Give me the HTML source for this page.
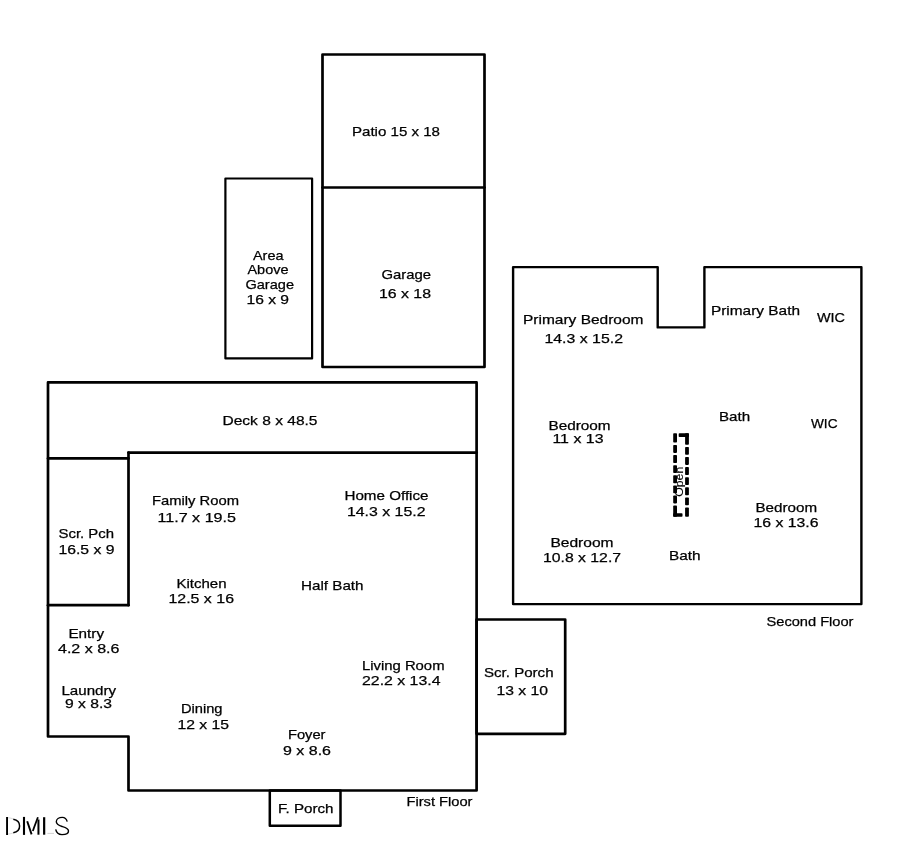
<!DOCTYPE html>
<html><head><meta charset="utf-8"><style>
html,body{margin:0;padding:0;background:#fff;width:904px;height:866px;overflow:hidden}
svg{display:block;will-change:transform;font-family:"Liberation Sans",sans-serif;font-size:13px}
</style></head><body>
<svg width="904" height="866" viewBox="0 0 904 866">
<g fill="none" stroke="#000" stroke-linecap="round" stroke-linejoin="round">
<path d="M322.5,54.5 L484.5,54.5 L484.5,367 L322.5,367 Z" stroke-width="2.7"/>
<line x1="322.5" y1="187.5" x2="484.5" y2="187.5" stroke-width="2.7"/>
<path d="M225.4,178.5 L312.1,178.5 L312.1,358.4 L225.4,358.4 Z" stroke-width="2.2"/>
<path d="M48,382.4 L476.6,382.4 L476.6,790.5 L128.5,790.5 L128.5,736.5 L48,736.5 Z" stroke-width="2.7"/>
<line x1="128.5" y1="452.6" x2="476.6" y2="452.6" stroke-width="2.7"/>
<line x1="48" y1="458.4" x2="128.5" y2="458.4" stroke-width="2.7"/>
<line x1="128.5" y1="452.6" x2="128.5" y2="605.2" stroke-width="2.7"/>
<line x1="48" y1="605.2" x2="128.5" y2="605.2" stroke-width="2.7"/>
<path d="M476.6,619.5 L565.2,619.5 L565.2,733.8 L476.6,733.8 Z" stroke-width="2.7"/>
<path d="M269.8,790.5 L340.5,790.5 L340.5,825.7 L269.8,825.7 Z" stroke-width="2.5"/>
<path d="M513.1,267.1 L657.7,267.1 L657.7,327.4 L704.4,327.4 L704.4,267.1 L861.4,267.1 L861.4,604.1 L513.1,604.1 Z" stroke-width="2.4"/>
</g>
<g fill="#000"><rect x="673.2" y="433.3" width="3.8" height="9.2" rx="0.8"/><rect x="673.2" y="445.0" width="3.8" height="7.9" rx="0.8"/><rect x="673.2" y="455.1" width="3.8" height="7.9" rx="0.8"/><rect x="673.2" y="465.2" width="3.8" height="7.9" rx="0.8"/><rect x="673.2" y="475.3" width="3.8" height="7.9" rx="0.8"/><rect x="673.2" y="485.4" width="3.8" height="7.9" rx="0.8"/><rect x="673.2" y="495.5" width="3.8" height="7.9" rx="0.8"/><rect x="673.2" y="505.6" width="3.8" height="11.2" rx="0.8"/><rect x="685.1" y="433.3" width="3.8" height="11.4" rx="0.8"/><rect x="685.1" y="446.9" width="3.8" height="7.9" rx="0.8"/><rect x="685.1" y="457.0" width="3.8" height="7.9" rx="0.8"/><rect x="685.1" y="467.1" width="3.8" height="7.9" rx="0.8"/><rect x="685.1" y="477.2" width="3.8" height="7.9" rx="0.8"/><rect x="685.1" y="487.3" width="3.8" height="7.9" rx="0.8"/><rect x="685.1" y="497.4" width="3.8" height="7.9" rx="0.8"/><rect x="685.1" y="507.5" width="3.8" height="9.3" rx="0.8"/><rect x="678.7" y="433.3" width="10.2" height="3.7" rx="0.8"/><rect x="673.2" y="513.2" width="9.3" height="3.6" rx="0.8"/></g>
<g fill="#000" stroke="#000" stroke-width="0.25">
<text x="351.97" y="135.60" textLength="88.04" lengthAdjust="spacingAndGlyphs">Patio 15 x 18</text>
<text x="381.48" y="279.40" textLength="49.52" lengthAdjust="spacingAndGlyphs">Garage</text>
<text x="378.92" y="297.80" textLength="52.09" lengthAdjust="spacingAndGlyphs">16 x 18</text>
<text x="252.98" y="259.60" textLength="30.52" lengthAdjust="spacingAndGlyphs">Area</text>
<text x="247.48" y="273.80" textLength="41.05" lengthAdjust="spacingAndGlyphs">Above</text>
<text x="245.48" y="288.50" textLength="48.54" lengthAdjust="spacingAndGlyphs">Garage</text>
<text x="246.47" y="303.50" textLength="42.55" lengthAdjust="spacingAndGlyphs">16 x 9</text>
<text x="222.47" y="425.40" textLength="95.04" lengthAdjust="spacingAndGlyphs">Deck 8 x 48.5</text>
<text x="58.47" y="537.70" textLength="55.57" lengthAdjust="spacingAndGlyphs">Scr. Pch</text>
<text x="58.48" y="553.80" textLength="56.05" lengthAdjust="spacingAndGlyphs">16.5 x 9</text>
<text x="151.97" y="504.70" textLength="87.05" lengthAdjust="spacingAndGlyphs">Family Room</text>
<text x="157.47" y="521.50" textLength="78.55" lengthAdjust="spacingAndGlyphs">11.7 x 19.5</text>
<text x="344.48" y="500.40" textLength="84.02" lengthAdjust="spacingAndGlyphs">Home Office</text>
<text x="346.96" y="515.90" textLength="78.54" lengthAdjust="spacingAndGlyphs">14.3 x 15.2</text>
<text x="176.44" y="587.90" textLength="50.11" lengthAdjust="spacingAndGlyphs">Kitchen</text>
<text x="168.45" y="602.90" textLength="65.57" lengthAdjust="spacingAndGlyphs">12.5 x 16</text>
<text x="300.97" y="589.60" textLength="62.56" lengthAdjust="spacingAndGlyphs">Half Bath</text>
<text x="68.44" y="637.60" textLength="35.58" lengthAdjust="spacingAndGlyphs">Entry</text>
<text x="57.99" y="652.70" textLength="61.51" lengthAdjust="spacingAndGlyphs">4.2 x 8.6</text>
<text x="61.48" y="694.60" textLength="54.54" lengthAdjust="spacingAndGlyphs">Laundry</text>
<text x="64.99" y="707.80" textLength="47.04" lengthAdjust="spacingAndGlyphs">9 x 8.3</text>
<text x="361.96" y="669.70" textLength="82.56" lengthAdjust="spacingAndGlyphs">Living Room</text>
<text x="361.99" y="684.90" textLength="78.51" lengthAdjust="spacingAndGlyphs">22.2 x 13.4</text>
<text x="483.97" y="676.80" textLength="69.55" lengthAdjust="spacingAndGlyphs">Scr. Porch</text>
<text x="496.47" y="694.70" textLength="51.56" lengthAdjust="spacingAndGlyphs">13 x 10</text>
<text x="180.94" y="712.70" textLength="41.58" lengthAdjust="spacingAndGlyphs">Dining</text>
<text x="177.45" y="728.90" textLength="51.57" lengthAdjust="spacingAndGlyphs">12 x 15</text>
<text x="287.96" y="738.70" textLength="37.54" lengthAdjust="spacingAndGlyphs">Foyer</text>
<text x="282.99" y="754.80" textLength="48.02" lengthAdjust="spacingAndGlyphs">9 x 8.6</text>
<text x="277.95" y="813.10" textLength="55.58" lengthAdjust="spacingAndGlyphs">F. Porch</text>
<text x="406.48" y="806.40" textLength="66.02" lengthAdjust="spacingAndGlyphs">First Floor</text>
<text x="522.98" y="323.90" textLength="120.53" lengthAdjust="spacingAndGlyphs">Primary Bedroom</text>
<text x="544.46" y="342.90" textLength="78.55" lengthAdjust="spacingAndGlyphs">14.3 x 15.2</text>
<text x="710.98" y="314.60" textLength="89.03" lengthAdjust="spacingAndGlyphs">Primary Bath</text>
<text x="817.00" y="322.40" textLength="28.04" lengthAdjust="spacingAndGlyphs">WIC</text>
<text x="548.45" y="429.60" textLength="62.08" lengthAdjust="spacingAndGlyphs">Bedroom</text>
<text x="552.46" y="443.10" textLength="51.05" lengthAdjust="spacingAndGlyphs">11 x 13</text>
<text x="718.90" y="420.90" textLength="31.19" lengthAdjust="spacingAndGlyphs">Bath</text>
<text x="810.96" y="427.60" textLength="26.55" lengthAdjust="spacingAndGlyphs">WIC</text>
<text x="755.48" y="511.60" textLength="61.56" lengthAdjust="spacingAndGlyphs">Bedroom</text>
<text x="753.47" y="526.70" textLength="65.04" lengthAdjust="spacingAndGlyphs">16 x 13.6</text>
<text x="550.45" y="546.90" textLength="63.08" lengthAdjust="spacingAndGlyphs">Bedroom</text>
<text x="542.99" y="561.90" textLength="78.05" lengthAdjust="spacingAndGlyphs">10.8 x 12.7</text>
<text x="668.91" y="559.90" textLength="31.63" lengthAdjust="spacingAndGlyphs">Bath</text>
<text x="766.49" y="625.70" textLength="87.01" lengthAdjust="spacingAndGlyphs">Second Floor</text>
<text transform="translate(683.2,496.8) rotate(-90)" font-size="10.5" stroke-width="0.1" textLength="30" lengthAdjust="spacingAndGlyphs">Open</text>
</g>
<g fill="none" stroke="#000">
<path d="M7.05,816.9 V834.9" stroke-width="1.9"/>
<path d="M8,817.8 C10,817.9 12,818.2 13.5,819.3 M8,834 C10,833.9 12,833.6 13.5,832.6" stroke-width="0.6" opacity="0.25"/>
<path d="M13.3,819.2 C17.5,820 19.6,823 19.6,826 C19.6,829 17.5,832 13.3,832.8" stroke-width="1.5"/>
<path d="M24,816.9 V834.9" stroke-width="2.1"/>
<path d="M27.2,821.2 L31.6,834.4" stroke-width="1.9"/>
<path d="M37.9,817.2 L32.8,831" stroke-width="1.8"/>
<path d="M38.45,819.5 V834.7" stroke-width="2"/>
<path d="M44.15,817.2 V834.7" stroke-width="2.2"/>
<path d="M47.4,833.4 H54" stroke-width="0.6" opacity="0.3"/>
<path d="M67.2,821.6 C66.5,819 64.5,817.4 62.3,817.4 C59,817.4 56.3,819.2 56.3,821.8 C56.3,824.8 60,825.8 62.5,826.6 C65.5,827.5 68.5,828.5 68.5,831 C68.5,833.5 65.5,834.6 62,834.6 C58.5,834.6 56.3,832.3 55.7,829.4" stroke-width="1.4"/>
</g>
</svg>
</body></html>
